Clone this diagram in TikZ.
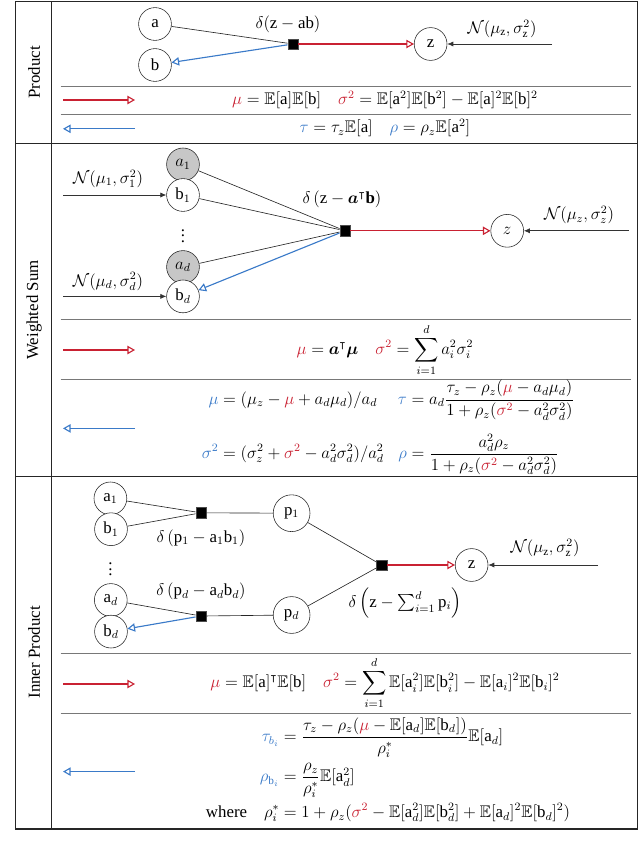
\documentclass[tikz,border=0pt,12pt]{standalone}
\usepackage{amsmath,amssymb}
\usepackage{fontspec}
\setmainfont{Liberation Serif}
\usetikzlibrary{arrows.meta}
\definecolor{MsgRed}{RGB}{201,33,50}
\definecolor{MsgBlue}{RGB}{58,122,200}
\definecolor{MsgGrey}{RGB}{120,120,120}
\newcommand{\msgf}[1]{{\color{MsgRed}#1}}
\newcommand{\msgb}[1]{{\color{MsgBlue}#1}}
\newcommand{\EE}{\mathbb{E}}

\begin{document}
\begin{tikzpicture}
        \tikzset{var/.style={circle,draw=black!85,thin,fill=white,minimum size=8.2mm,inner sep=0pt},obs/.style={var,fill=black!22},fac/.style={draw=black!70,fill=black,minimum size=2.6mm,inner sep=0pt},edge/.style={draw=black!85,line width=0.45pt},fwd/.style={-{Triangle[open,length=1.9mm,width=2.1mm]},draw=MsgRed,line width=0.8pt},bwd/.style={-{Triangle[open,length=1.9mm,width=2.1mm]},draw=MsgBlue,line width=0.8pt},prior/.style={-{Latex[length=1.5mm,width=1.3mm]},draw=black!80,line width=0.55pt},sep/.style={draw=MsgGrey,line width=0.7pt},sect/.style={rotate=90}}
        \useasboundingbox (0,0) rectangle (16,-21.275);
        \draw[line width=1pt,black!85] (0.39,-0.04) rectangle (15.94,-20.72);
        \draw[line width=0.7pt,black!85] (1.29,-0.04) -- (1.29,-20.72);
        \draw[line width=0.8pt,black!85] (0.39,-3.58) -- (15.94,-3.58) (0.39,-11.91) -- (15.94,-11.91);
        \foreach \y in {-2.15,-2.86,-7.98,-9.48,-16.33,-17.84}{\draw[sep] (1.515,\y) -- (15.77,\y);}
        \node[sect] (lprod) at (0.85,-1.81) {Product};
        \node[sect] (lwsum) at (0.85,-7.75) {Weighted Sum};
        \node[sect] (linner) at (0.85,-16.31) {Inner Product};
        \foreach \k/\y in {1/-2.5,2/-8.75,3/-17.1}{\coordinate (fs\k) at (1.575,\y); \coordinate (fe\k) at (3.375,\y); \draw[fwd] (fs\k) -- (fe\k);}
        \foreach \k/\y in {1/-3.22,2/-10.71,3/-19.29}{\coordinate (bs\k) at (1.575,\y); \coordinate (be\k) at (3.375,\y); \draw[bwd] (be\k) -- (bs\k);}
        % product
        \node[var] (pa) at (3.875,-0.6) {a};
        \node[var] (pb) at (3.875,-1.625) {b};
        \node[fac] (pfac) at (7.325,-1.1) {};
        \node (pdel) at (7.2,-0.6) {$\delta(\mathrm{z}-\mathrm{ab})$};
        \node[var] (pz) at (10.765,-1.1) {z};
        \coordinate (pin) at (13.8,-1.1);
        \node (pnorm) at (12.55,-0.72) {$\mathcal{N}(\mu_\mathrm{z},\sigma_\mathrm{z}^2)$};
        \draw[edge] (pa) -- (pfac);
        \draw[bwd] (pfac) -- (pb);
        \draw[fwd] (pfac) -- (pz);
        \draw[prior] (pin) -- (pz);
        \node (pfwdeq) at (9.625,-2.49) {$\msgf{\mu}=\EE[\mathrm{a}]\EE[\mathrm{b}]\quad\msgf{\sigma^2}=\EE[\mathrm{a}^2]\EE[\mathrm{b}^2]-\EE[\mathrm{a}]^2\EE[\mathrm{b}]^2$};
        \node (pbwdeq) at (9.625,-3.21) {$\msgb{\tau}=\tau_z\EE[\mathrm{a}]\quad\msgb{\rho}=\rho_z\EE[\mathrm{a}^2]$};
        % weighted sum
        \node[obs] (wa1) at (4.575,-4.11) {$a_1$};
        \node[var] (wb1) at (4.575,-4.875) {$\mathrm{b}_1$};
        \node (wdots) at (4.575,-5.8) {$\vdots$};
        \node[obs] (wad) at (4.575,-6.675) {$a_d$};
        \node[var] (wbd) at (4.575,-7.41) {$\mathrm{b}_d$};
        \node[fac] (wfac) at (8.625,-5.77) {};
        \node (wdel) at (8.55,-4.98) {$\delta\left(\mathrm{z}-\boldsymbol{a}^\intercal\mathbf{b}\right)$};
        \node[var] (wz) at (12.68,-5.77) {$z$};
        \coordinate (win) at (15.715,-5.77);
        \node (wnorm) at (14.475,-5.38) {$\mathcal{N}(\mu_z,\sigma_z^2)$};
        \coordinate (win1) at (1.575,-4.875);
        \node (wnorm1) at (2.7,-4.47) {$\mathcal{N}(\mu_1,\sigma_1^2)$};
        \coordinate (wind) at (1.575,-7.41);
        \node (wnormd) at (2.7,-7.04) {$\mathcal{N}(\mu_d,\sigma_d^2)$};
        \foreach \v in {wa1,wb1,wad}{\draw[edge] (\v) -- (wfac);}
        \draw[bwd] (wfac) -- (wbd);
        \draw[fwd] (wfac) -- (wz);
        \draw[prior] (win) -- (wz);
        \draw[prior] (win1) -- (wb1);
        \draw[prior] (wind) -- (wbd);
        \node (wfwdeq) at (9.625,-8.75) {$\displaystyle\msgf{\mu}=\boldsymbol{a}^\intercal\boldsymbol{\mu}\quad\msgf{\sigma^2}=\sum_{i=1}^d a_i^2\sigma_i^2$};
        \node (wbwdeq) at (9.7,-10.69) {$\begin{aligned}\msgb{\mu}&=(\mu_z-\msgf{\mu}+a_d\mu_d)/a_d & \msgb{\tau}&=a_d\frac{\tau_z-\rho_z(\msgf{\mu}-a_d\mu_d)}{1+\rho_z(\msgf{\sigma^2}-a_d^2\sigma_d^2)}\\[1ex]
          \msgb{\sigma^2}&=(\sigma_z^2+\msgf{\sigma^2}-a_d^2\sigma_d^2)/a_d^2 & \msgb{\rho}&=\frac{a_d^2\rho_z}{1+\rho_z(\msgf{\sigma^2}-a_d^2\sigma_d^2)}\end{aligned}$};
        % inner product
        \node[var] (ia1) at (2.76,-12.46) {$\mathrm{a}_1$};
        \node[var] (ib1) at (2.775,-13.23) {$\mathrm{b}_1$};
        \node (idots) at (2.76,-14.13) {$\vdots$};
        \node[var] (iad) at (2.77,-15.0) {$\mathrm{a}_d$};
        \node[var] (ibd) at (2.775,-15.79) {$\mathrm{b}_d$};
        \node[fac] (if1) at (5.025,-12.82) {};
        \node[fac] (ifd) at (5.025,-15.4) {};
        \node (idel1) at (5.025,-13.45) {$\delta\left(\mathrm{p}_1-\mathrm{a}_1\mathrm{b}_1\right)$};
        \node (ideld) at (5.025,-14.79) {$\delta\left(\mathrm{p}_d-\mathrm{a}_d\mathrm{b}_d\right)$};
        \node[var,minimum size=9.2mm] (ip1) at (7.29,-12.83) {$\mathrm{p}_1$};
        \node[var,minimum size=9.2mm] (ipd) at (7.29,-15.375) {$\mathrm{p}_d$};
        \node[fac] (ifs) at (9.54,-14.125) {};
        \node (idels) at (10.125,-15.075) {$\delta\left(\mathrm{z}-\sum_{i=1}^d\mathrm{p}_i\right)$};
        \node[var] (iz) at (11.79,-14.125) {z};
        \coordinate (iin) at (14.95,-14.125);
        \node (inorm) at (13.625,-13.7) {$\mathcal{N}(\mu_\mathrm{z},\sigma_\mathrm{z}^2)$};
        \draw[edge] (ia1) -- (if1);
        \draw[edge] (ib1) -- (if1);
        \draw[edge] (iad) -- (ifd);
        \draw[bwd] (ifd) -- (ibd);
        \draw[edge] (if1) -- (ip1);
        \draw[edge] (ifd) -- (ipd);
        \draw[edge] (ip1) -- (ifs);
        \draw[edge] (ipd) -- (ifs);
        \draw[fwd] (ifs) -- (iz);
        \draw[prior] (iin) -- (iz);
        \node (ifwdeq) at (9.625,-17.08) {$\displaystyle\msgf{\mu}=\EE[\mathrm{a}]^\intercal\EE[\mathrm{b}]\quad\msgf{\sigma^2}=\sum_{i=1}^d\EE[\mathrm{a}_i^2]\EE[\mathrm{b}_i^2]-\EE[\mathrm{a}_i]^2\EE[\mathrm{b}_i]^2$};
        \node (ibwdeq) at (9.7,-19.27) {$\begin{aligned}\msgb{\tau_{b_i}}&=\frac{\tau_z-\rho_z(\msgf{\mu}-\EE[\mathrm{a}_d]\EE[\mathrm{b}_d])}{\rho_i^*}\EE[\mathrm{a}_d]\\
          \msgb{\rho_{\mathrm{b}_i}}&=\frac{\rho_z}{\rho_i^*}\EE[\mathrm{a}_d^2]\\
          \text{where}\quad\rho_i^*&=1+\rho_z(\msgf{\sigma^2}-\EE[\mathrm{a}_d^2]\EE[\mathrm{b}_d^2]+\EE[\mathrm{a}_d]^2\EE[\mathrm{b}_d]^2)\end{aligned}$};
      \end{tikzpicture}
\end{document}
